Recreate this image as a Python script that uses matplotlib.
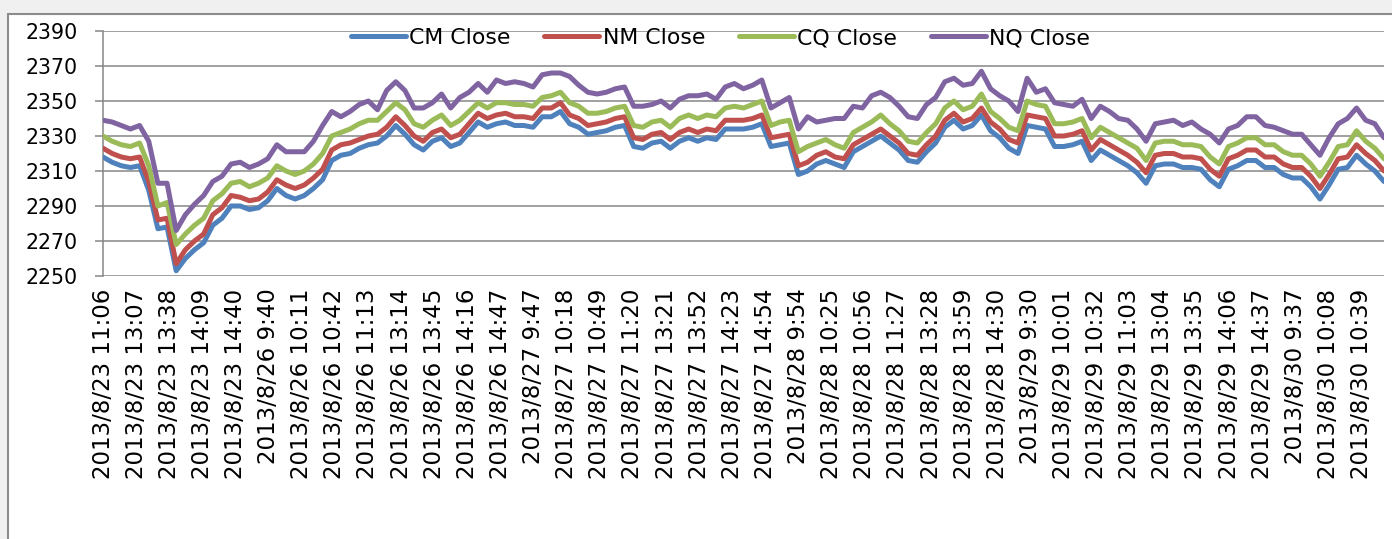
import numpy as np
import matplotlib
matplotlib.use("Agg")
import matplotlib.pyplot as plt
from matplotlib.patches import Rectangle

plt.rcParams['font.family'] = ['DejaVu Sans']

# ---- data ----
tick_labels = [
    "2013/8/23 11:06", "2013/8/23 13:07", "2013/8/23 13:38", "2013/8/23 14:09", "2013/8/23 14:40",
    "2013/8/26 9:40", "2013/8/26 10:11", "2013/8/26 10:42", "2013/8/26 11:13", "2013/8/26 13:14",
    "2013/8/26 13:45", "2013/8/26 14:16", "2013/8/26 14:47", "2013/8/27 9:47", "2013/8/27 10:18",
    "2013/8/27 10:49", "2013/8/27 11:20", "2013/8/27 13:21", "2013/8/27 13:52", "2013/8/27 14:23",
    "2013/8/27 14:54", "2013/8/28 9:54", "2013/8/28 10:25", "2013/8/28 10:56", "2013/8/28 11:27",
    "2013/8/28 13:28", "2013/8/28 13:59", "2013/8/28 14:30", "2013/8/29 9:30", "2013/8/29 10:01",
    "2013/8/29 10:32", "2013/8/29 11:03", "2013/8/29 13:04", "2013/8/29 13:35", "2013/8/29 14:06",
    "2013/8/29 14:37", "2013/8/30 9:37", "2013/8/30 10:08", "2013/8/30 10:39",
]
n_minutes = 1200          # number of one-minute categories on the axis
label_every = 31          # a category label every 31 minutes

cm_close = [
    2318, 2315, 2313, 2312, 2313, 2299, 2277, 2278, 2253, 2260, 2265, 2269, 2279, 2283, 2290, 2290, 2288, 2289, 2293, 2300,
    2296, 2294, 2296, 2300, 2305, 2316, 2319, 2320, 2323, 2325, 2326, 2330, 2336, 2331, 2325, 2322, 2327, 2329, 2324, 2326,
    2332, 2338, 2335, 2337, 2338, 2336, 2336, 2335, 2341, 2341, 2344, 2337, 2335, 2331, 2332, 2333, 2335, 2336, 2324, 2323,
    2326, 2327, 2323, 2327, 2329, 2327, 2329, 2328, 2334, 2334, 2334, 2335, 2337, 2324, 2325, 2326, 2308, 2310, 2314, 2316,
    2314, 2312, 2321, 2324, 2327, 2330, 2326, 2322, 2316, 2315, 2321, 2326, 2335, 2339, 2334, 2336, 2342, 2333, 2329, 2323,
    2320, 2336, 2335, 2334, 2324, 2324, 2325, 2327, 2316, 2322, 2319, 2316, 2313, 2309, 2303, 2313, 2314, 2314, 2312, 2312,
    2311, 2305, 2301, 2311, 2313, 2316, 2316, 2312, 2312, 2308, 2306, 2306, 2301, 2294, 2302, 2311, 2312, 2319, 2314, 2310, 2304,
]
nm_close = [
    2323, 2320, 2318, 2317, 2318, 2304, 2282, 2283, 2257, 2265, 2270, 2274, 2285, 2289, 2296, 2295, 2293, 2294, 2298, 2305,
    2302, 2300, 2302, 2306, 2311, 2322, 2325, 2326, 2328, 2330, 2331, 2335, 2341, 2336, 2330, 2327, 2332, 2334, 2329, 2331,
    2337, 2343, 2340, 2342, 2343, 2341, 2341, 2340, 2346, 2346, 2349, 2342, 2340, 2336, 2337, 2338, 2340, 2341, 2329, 2328,
    2331, 2332, 2328, 2332, 2334, 2332, 2334, 2333, 2339, 2339, 2339, 2340, 2342, 2329, 2330, 2331, 2313, 2315, 2319, 2321,
    2318, 2317, 2325, 2328, 2331, 2334, 2330, 2326, 2320, 2319, 2325, 2330, 2339, 2343, 2338, 2340, 2346, 2338, 2334, 2328,
    2326, 2342, 2341, 2340, 2330, 2330, 2331, 2333, 2322, 2328, 2325, 2322, 2319, 2315, 2309, 2319, 2320, 2320, 2318, 2318,
    2317, 2311, 2307, 2317, 2319, 2322, 2322, 2318, 2318, 2314, 2312, 2312, 2307, 2300, 2308, 2317, 2318, 2325, 2320, 2316, 2310,
]
cq_close = [
    2330, 2327, 2325, 2324, 2326, 2313, 2290, 2292, 2268, 2274, 2279, 2283, 2293, 2297, 2303, 2304, 2301, 2303, 2306, 2313,
    2310, 2308, 2310, 2314, 2320, 2330, 2332, 2334, 2337, 2339, 2339, 2344, 2349, 2345, 2337, 2335, 2339, 2342, 2336, 2339,
    2344, 2349, 2346, 2349, 2349, 2348, 2348, 2347, 2352, 2353, 2355, 2349, 2347, 2343, 2343, 2344, 2346, 2347, 2336, 2335,
    2338, 2339, 2335, 2340, 2342, 2340, 2342, 2341, 2346, 2347, 2346, 2348, 2350, 2336, 2338, 2339, 2321, 2324, 2326, 2328,
    2325, 2323, 2332, 2335, 2338, 2342, 2337, 2333, 2327, 2326, 2332, 2337, 2346, 2350, 2345, 2347, 2354, 2344, 2340, 2335,
    2333, 2350, 2348, 2347, 2337, 2337, 2338, 2340, 2329, 2335, 2332, 2329, 2326, 2323, 2316, 2326, 2327, 2327, 2325, 2325,
    2324, 2318, 2314, 2324, 2326, 2329, 2329, 2325, 2325, 2321, 2319, 2319, 2314, 2307, 2315, 2324, 2325, 2333, 2327, 2323, 2317,
]
nq_close = [
    2339, 2338, 2336, 2334, 2336, 2327, 2303, 2303, 2276, 2285, 2291, 2296, 2304, 2307, 2314, 2315, 2312, 2314, 2317, 2325,
    2321, 2321, 2321, 2327, 2336, 2344, 2341, 2344, 2348, 2350, 2345, 2356, 2361, 2356, 2346, 2346, 2349, 2354, 2346, 2352,
    2355, 2360, 2355, 2362, 2360, 2361, 2360, 2358, 2365, 2366, 2366, 2364, 2359, 2355, 2354, 2355, 2357, 2358, 2347, 2347,
    2348, 2350, 2346, 2351, 2353, 2353, 2354, 2351, 2358, 2360, 2357, 2359, 2362, 2346, 2349, 2352, 2334, 2341, 2338, 2339,
    2340, 2340, 2347, 2346, 2353, 2355, 2352, 2347, 2341, 2340, 2348, 2352, 2361, 2363, 2359, 2360, 2367, 2357, 2353, 2350,
    2344, 2363, 2355, 2357, 2349, 2348, 2347, 2351, 2340, 2347, 2344, 2340, 2339, 2334, 2327, 2337, 2338, 2339, 2336, 2338,
    2334, 2331, 2326, 2334, 2336, 2341, 2341, 2336, 2335, 2333, 2331, 2331, 2325, 2319, 2329, 2337, 2340, 2346, 2339, 2337, 2329,
]
series_names = ["CM Close", "NM Close", "CQ Close", "NQ Close"]
series_values = [cm_close, nm_close, cq_close, nq_close]
colors = ["#4F81BD", "#C0504D", "#9BBB59", "#8064A2"]

# ---- figure ----
W, H = 1392, 539
fig = plt.figure(figsize=(W / 100, H / 100), dpi=100, facecolor="#f0f0f0")
fig.patches.append(Rectangle((8 / W, -0.1), 1.2, 1 - 14 / H + 0.1, transform=fig.transFigure,
                             facecolor="white", edgecolor="#8c8c8c", linewidth=1.5, zorder=-10))

ax = fig.add_axes([103 / W, 1 - 276 / H, (1384 - 103) / W, (276 - 31) / H])
ax.set_zorder(5)
ax.set_facecolor("none")

x_samples = np.linspace(0, n_minutes - 1, len(cm_close))
for name, vals, c in zip(series_names, series_values, colors):
    ax.plot(x_samples, vals, color=c, lw=3.6, solid_joinstyle="round", solid_capstyle="round",
            label=name, zorder=3)

ax.set_xlim(0, n_minutes - 1)
ax.set_ylim(2250, 2390)
ax.set_yticks(np.arange(2250, 2391, 20))
ax.yaxis.grid(True, color="#868686", lw=1.1, zorder=0)
ax.set_axisbelow(True)

for s in ["top", "right", "bottom"]:
    ax.spines[s].set_visible(False)
ax.spines["left"].set_color("#868686")
ax.spines["left"].set_linewidth(1.1)

ax.tick_params(axis="y", length=6, width=1.1, color="#868686", pad=12, labelsize=14.8)
ax.set_xticks(np.arange(len(tick_labels)) * label_every)
ax.set_xticklabels(tick_labels, rotation=90, fontsize=16.5, va="top", ha="center")
ax.tick_params(axis="x", length=0, pad=9)

leg = ax.legend(loc="center", bbox_to_anchor=(0.482, 0.971), ncol=4, frameon=False,
                fontsize=15.8, handlelength=2.5, handletextpad=0.15, columnspacing=1.55,
                borderaxespad=0)
for lh in leg.get_lines():
    lh.set_linewidth(3.6)

fig.savefig("out.png", dpi=100, facecolor=fig.get_facecolor())
